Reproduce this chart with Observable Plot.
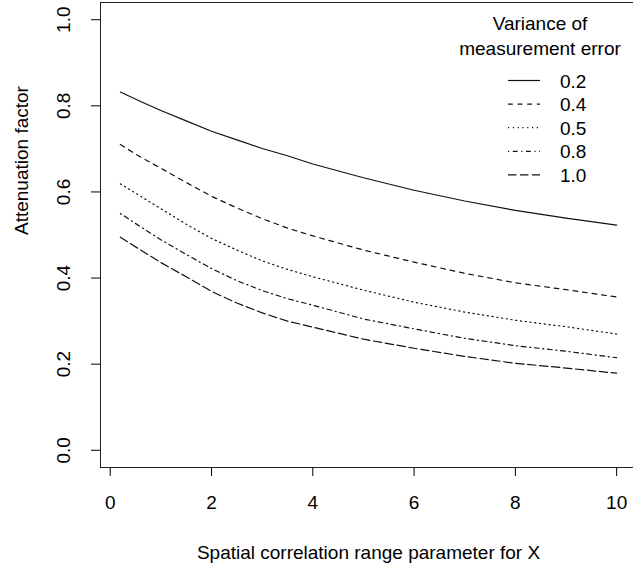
<!DOCTYPE html>
<html>
<head>
<meta charset="utf-8">
<script src="https://cdn.jsdelivr.net/npm/d3@7"></script>
<script src="https://cdn.jsdelivr.net/npm/@observablehq/plot@0.6"></script>
<style>
  html, body { margin: 0; padding: 0; background: #fff; }
  #chart { width: 633px; height: 567px; overflow: hidden; position: relative; }
</style>
</head>
<body>
<div id="chart"></div>
<script>
// Spatial correlation range parameter for X (shared by every curve)
const rangeX = [0.2, 0.6, 1, 1.5, 2, 2.5, 3, 3.5, 4, 5, 6, 7, 8, 9, 10];

// Variance of measurement error, one curve each
const variances = ["0.2", "0.4", "0.5", "0.8", "1.0"];

// Attenuation factor for each variance
const att02 = [0.832, 0.810, 0.789, 0.765, 0.741, 0.721, 0.701, 0.684, 0.665, 0.633, 0.604, 0.579, 0.557, 0.539, 0.523];
const att04 = [0.710, 0.681, 0.655, 0.622, 0.590, 0.563, 0.538, 0.516, 0.498, 0.465, 0.437, 0.411, 0.389, 0.373, 0.356];
const att05 = [0.619, 0.590, 0.561, 0.525, 0.492, 0.465, 0.440, 0.420, 0.403, 0.372, 0.344, 0.321, 0.302, 0.287, 0.270];
const att08 = [0.550, 0.519, 0.489, 0.455, 0.422, 0.394, 0.371, 0.352, 0.337, 0.305, 0.282, 0.260, 0.243, 0.230, 0.215];
const att10 = [0.495, 0.465, 0.436, 0.403, 0.369, 0.342, 0.319, 0.300, 0.286, 0.258, 0.237, 0.218, 0.202, 0.191, 0.179];

// Axis ticks and texts
const xTicks = [0, 2, 4, 6, 8, 10];
const yTicks = [0, 0.2, 0.4, 0.6, 0.8, 1.0];
const xTitle = "Spatial correlation range parameter for X";
const yTitle = "Attenuation factor";
const legendTitle = ["Variance of", "measurement error"];

const seriesValues = [att02, att04, att05, att08, att10];

// Line types: solid, dashed, dotted, dot-dash, long dash
const dashes = {
  "0.2": null,
  "0.4": "4.8,4.8",
  "0.5": "1.2,3.6",
  "0.8": "1.2,3.6,4.8,3.6",
  "1.0": "8.4,3.6"
};

const rows = variances.flatMap((v, i) =>
  rangeX.map((x, j) => ({variance: v, range: x, factor: seriesValues[i][j]}))
);

const fontFamily = "'Liberation Sans', Arial, Helvetica, sans-serif";
const ink = "#111";

const plot = Plot.plot({
  width: 636,
  height: 567,
  marginLeft: 100,
  marginRight: 0,
  marginTop: 2,
  marginBottom: 100,
  style: {fontFamily, fontSize: "19px", background: "#fff", color: "#000", maxWidth: "none"},
  x: {domain: [-0.192, 10.392]},
  y: {domain: [-0.04, 1.04]},
  marks: [
    Plot.frame({stroke: "#222", strokeWidth: 1}),
    Plot.axisX({ticks: xTicks, tickSize: 9, tickPadding: 19, tickFormat: d => String(d), label: null, fontSize: 19}),
    Plot.axisY({ticks: yTicks, tickSize: 9, tickFormat: () => "", label: null}),
    Plot.text(yTicks, {
      y: d => d, text: d => d.toFixed(1), frameAnchor: "left",
      dx: -37, rotate: -90, textAnchor: "middle", lineAnchor: "middle", fontSize: 19
    }),
    Plot.text([yTitle], {frameAnchor: "left", dx: -79, rotate: -90, lineAnchor: "middle", fontSize: 19}),
    Plot.text([xTitle], {frameAnchor: "bottom", dy: 85, lineAnchor: "middle", fontSize: 19}),
    ...variances.map(v => Plot.line(rows.filter(r => r.variance === v), {
      x: "range", y: "factor", stroke: ink, strokeWidth: 1.2, strokeDasharray: dashes[v]
    }))
  ]
});

// Legend in the upper right corner of the plot region
const svg = d3.select(plot);
const g = svg.append("g")
  .attr("font-family", fontFamily)
  .attr("font-size", 19)
  .attr("fill", "#000")
  .attr("text-anchor", "start");

legendTitle.forEach((t, i) => {
  g.append("text").attr("x", 540).attr("y", 30 + 25 * i).attr("text-anchor", "middle").text(t);
});

variances.forEach((v, i) => {
  const base = 87.5 + 23.6 * i;
  g.append("line")
    .attr("x1", 508).attr("x2", 540)
    .attr("y1", base - 7).attr("y2", base - 7)
    .attr("stroke", ink).attr("stroke-width", 1.2)
    .attr("stroke-dasharray", dashes[v]);
  g.append("text").attr("x", 560).attr("y", base).attr("text-anchor", "start").text(v);
});

document.getElementById("chart").appendChild(plot);
</script>
</body>
</html>
